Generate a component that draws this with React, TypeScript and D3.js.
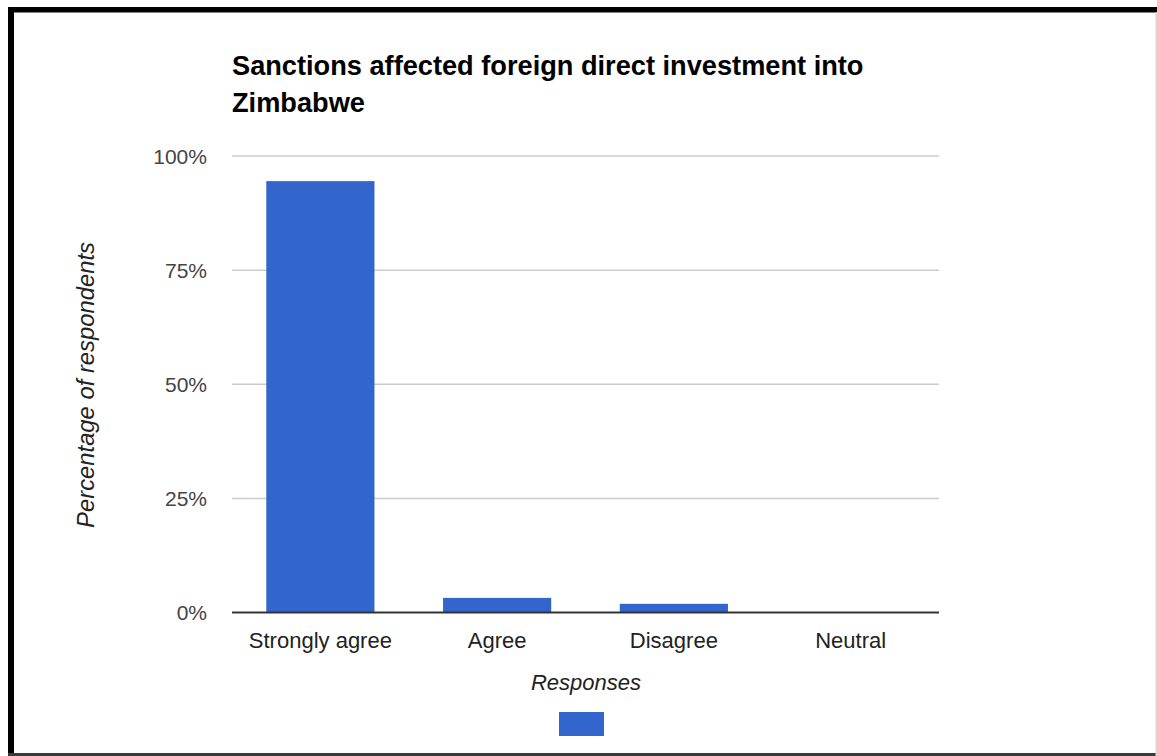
import React from "react";
import * as d3 from "d3";

const categories = ["Strongly agree", "Agree", "Disagree", "Neutral"];
const values = [94.5, 3.2, 1.9, 0];
const yTicks = [0, 25, 50, 75, 100];
const titleLines = ["Sanctions affected foreign direct investment into", "Zimbabwe"];
const xTitle = "Responses";
const yTitle = "Percentage of respondents";

const W = 1157;
const H = 756;
const plot = { left: 232, right: 939, top: 156, bottom: 612.5 };
const font = "'Liberation Sans', Arial, sans-serif";
const barColor = "#3366cc";

export default function App() {
  const x = d3.scaleBand<string>().domain(categories).range([plot.left, plot.right]).padding(0);
  const y = d3.scaleLinear().domain([0, 100]).range([plot.bottom, plot.top]);
  const bw = x.bandwidth() * 0.612;

  return (
    <svg
      width={W}
      height={H}
      style={{ position: "absolute", left: 0, top: 0, background: "#fff" }}
      fontFamily={font}
    >
      <rect x={0} y={0} width={W} height={H} fill="#fff" />
      {/* frame */}
      <rect x={8} y={7} width={W - 8} height={5.5} fill="#000" />
      <rect x={8} y={7} width={6} height={H - 7} fill="#000" />
      <rect x={8} y={753} width={W - 8} height={3} fill="#3a3a3a" />
      <rect x={1155.5} y={12} width={1.5} height={H - 12} fill="#d8d8d8" />

      {/* title */}
      {titleLines.map((t, i) => (
        <text key={i} x={232} y={74.5 + i * 37.5} fontSize={27.2} fontWeight="bold" fill="#000">
          {t}
        </text>
      ))}

      {/* gridlines */}
      {yTicks.map((t) => (
        <g key={t}>
          {t !== 0 && (
            <line x1={plot.left} x2={plot.right} y1={y(t)} y2={y(t)} stroke="#cccccc" strokeWidth={1.5} />
          )}
          <text x={207} y={y(t) + 7.5} fontSize={21} textAnchor="end" fill="#444">
            {t}%
          </text>
        </g>
      ))}

      {/* bars */}
      {categories.map((c, i) => {
        const cx = (x(c) as number) + x.bandwidth() / 2;
        return (
          <rect
            key={c}
            x={cx - bw / 2}
            y={y(values[i])}
            width={bw}
            height={y(0) - y(values[i])}
            fill={barColor}
          />
        );
      })}

      {/* baseline */}
      <line x1={plot.left} x2={plot.right} y1={y(0)} y2={y(0)} stroke="#333" strokeWidth={2} />

      {/* x labels */}
      {categories.map((c) => (
        <text
          key={c}
          x={(x(c) as number) + x.bandwidth() / 2}
          y={647.5}
          fontSize={22}
          textAnchor="middle"
          fill="#222"
        >
          {c}
        </text>
      ))}

      {/* axis titles */}
      <text x={586} y={690} fontSize={22} fontStyle="italic" textAnchor="middle" fill="#222">
        {xTitle}
      </text>
      <text
        transform={`translate(94,385) rotate(-90)`}
        fontSize={23.8}
        fontStyle="italic"
        textAnchor="middle"
        fill="#222"
      >
        {yTitle}
      </text>

      {/* legend */}
      <rect x={559} y={712} width={45} height={24} fill={barColor} />
    </svg>
  );
}
